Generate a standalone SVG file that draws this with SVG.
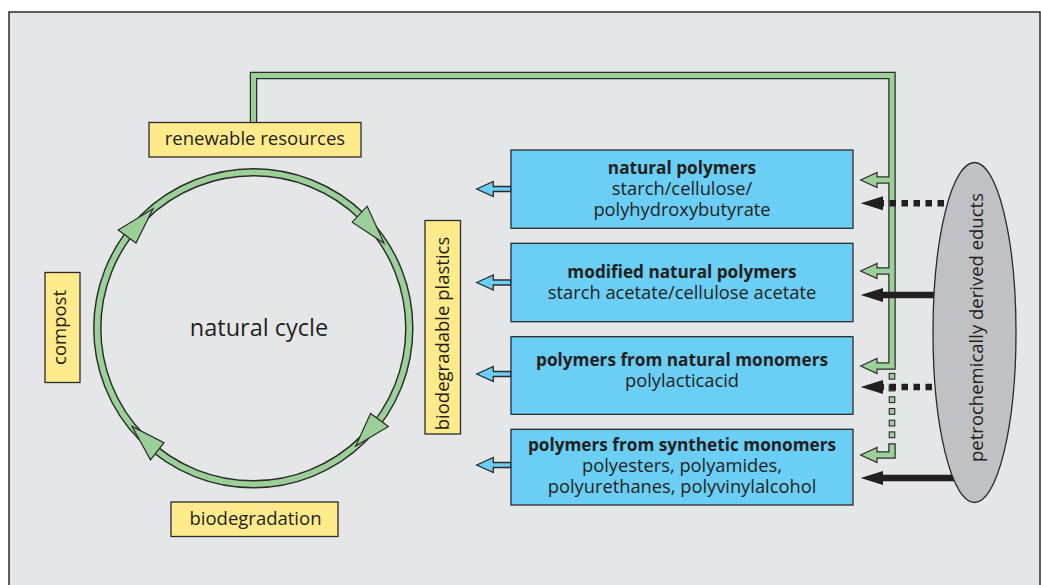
<svg xmlns="http://www.w3.org/2000/svg" width="1041" height="585" viewBox="0 0 1041 585">
  <defs>
    <style>
      .txt { font-family: "Open Sans", "Liberation Sans", sans-serif; fill: #231f20; }
      .lbl { font-size: 18.5px; text-anchor: middle; }
      .box-t { font-size: 18.3px; text-anchor: middle; }
      .bold { font-weight: bold; font-size: 17.2px; }
      .yellow { fill: #ffea8c; stroke: #2b2b2b; stroke-width: 1.3; }
      .blue { fill: #6bcef5; stroke: #2b2b2b; stroke-width: 1.3; }
      .pipe-out { fill: none; stroke: #2b2b2b; stroke-width: 7.5; stroke-linejoin: miter; }
      .pipe-in { fill: none; stroke: #9bd098; stroke-width: 5; stroke-linejoin: miter; }
      .ghead { fill: #9bd098; stroke: #2b2b2b; stroke-width: 1.2; stroke-linejoin: miter; }
      .gsq { fill: #9bd098; stroke: #2b2b2b; stroke-width: 1.1; }
      .bhead { fill: #231f20; }
      .bshaft { fill: none; stroke: #231f20; stroke-width: 6.5; }
      .dotted { stroke-dasharray: 6.5 5.5; }
    </style>
  </defs>

  <!-- panel -->
  <rect x="9" y="12" width="1031" height="600" fill="#e5e6e8" stroke="#2b2b2b" stroke-width="1.5"/>

  <!-- natural cycle ring -->
  <g id="natural-cycle">
    <circle cx="253.3" cy="328.3" r="156" fill="none" stroke="#2b2b2b" stroke-width="8.5"/>
    <circle cx="253.3" cy="328.3" r="156" fill="none" stroke="#9bd098" stroke-width="5.6"/>
    <polygon class="ghead" points="118.2,230.1 136.0,243.1 153.0,208.8"/>
    <polygon class="ghead" points="352.2,222.2 367.2,206.2 384.1,243.3"/>
    <polygon class="ghead" points="388.4,426.5 370.6,413.5 355.7,446.0"/>
    <polygon class="ghead" points="150.5,459.9 164.0,442.6 132.1,426.5"/>
    <text class="txt" x="259" y="336" font-size="23.5" text-anchor="middle">natural cycle</text>
  </g>

  <!-- connectors -->
  <g id="connectors">
    <!-- green supply line from renewable resources -->
    <path class="pipe-out" d="M253.5,125 V75.5 H892 V366 H876 M892,180 H876 M892,271 H876 M892,443.3 V455 H876"/>
    <polygon class="ghead" points="860.7,180 877,172.5 877,187.5"/>
    <polygon class="ghead" points="860.7,271 877,263.5 877,278.5"/>
    <polygon class="ghead" points="860.7,366 877,358.5 877,373.5"/>
    <polygon class="ghead" points="860.7,455 877,447.5 877,462.5"/>
    <path class="pipe-in" d="M253.5,125 V75.5 H892 V366 H875 M892,180 H875 M892,271 H875 M892,444.6 V455 H875"/>
    <!-- dotted part of the green line -->
    <rect class="gsq" x="889.2" y="373.4" width="5.6" height="5.8"/>
    <rect class="gsq" x="889.2" y="385.1" width="5.6" height="5.8"/>
    <rect class="gsq" x="889.2" y="396.8" width="5.6" height="5.8"/>
    <rect class="gsq" x="889.2" y="408.5" width="5.6" height="5.8"/>
    <rect class="gsq" x="889.2" y="420.2" width="5.6" height="5.8"/>
    <rect class="gsq" x="889.2" y="431.9" width="5.6" height="5.8"/>

    <!-- black arrows from petrochemical educts -->
    <path class="bshaft dotted" d="M944,203.3 H880"/>
    <polygon class="bhead" points="860.7,203.3 883,196.3 883,210.3"/>
    <path class="bshaft" d="M940,295 H880"/>
    <polygon class="bhead" points="860.7,295 883,288 883,302"/>
    <path class="bshaft dotted" d="M932,387 H880"/>
    <polygon class="bhead" points="860.7,387 883,380 883,394"/>
    <path class="bshaft" d="M960,478 H880"/>
    <polygon class="bhead" points="860.7,478 883,471 883,485"/>

    <!-- blue arrows towards biodegradable plastics -->
    <polygon class="blue" points="476.7,189 493.3,181.5 493.3,186.5 511,186.5 511,191.5 493.3,191.5 493.3,196.5"/>
    <polygon class="blue" points="476.7,282.5 493.3,275 493.3,280 511,280 511,285 493.3,285 493.3,290"/>
    <polygon class="blue" points="476.7,374 493.3,366.5 493.3,371.5 511,371.5 511,376.5 493.3,376.5 493.3,381.5"/>
    <polygon class="blue" points="476.7,465 493.3,457.5 493.3,462.5 511,462.5 511,467.5 493.3,467.5 493.3,472.5"/>
  </g>

  <!-- yellow labels -->
  <g id="renewable-resources">
    <rect class="yellow" x="149" y="122.5" width="212" height="34.5"/>
    <text class="txt lbl" x="255" y="144.5">renewable resources</text>
  </g>
  <g id="compost">
    <rect class="yellow" x="45" y="272.5" width="35" height="110"/>
    <text class="txt lbl" transform="translate(65.5,327.5) rotate(-90)">compost</text>
  </g>
  <g id="biodegradation">
    <rect class="yellow" x="171" y="502" width="167" height="34.5"/>
    <text class="txt lbl" x="255.5" y="525">biodegradation</text>
  </g>
  <g id="biodegradable-plastics">
    <rect class="yellow" x="425" y="220.5" width="35.5" height="213.5"/>
    <text class="txt lbl" transform="translate(449.3,333.5) rotate(-90)">biodegradable plastics</text>
  </g>

  <!-- polymer classes -->
  <g id="natural-polymers">
    <rect class="blue" x="511" y="150" width="342" height="78.3"/>
    <text class="txt box-t bold" x="682" y="174">natural polymers</text>
    <text class="txt box-t" x="682" y="195">starch/cellulose/</text>
    <text class="txt box-t" x="682" y="216">polyhydroxybutyrate</text>
  </g>
  <g id="modified-natural-polymers">
    <rect class="blue" x="511" y="243.3" width="342" height="78.4"/>
    <text class="txt box-t bold" x="682" y="277.7">modified natural polymers</text>
    <text class="txt box-t" x="682" y="299.3">starch acetate/cellulose acetate</text>
  </g>
  <g id="natural-monomers">
    <rect class="blue" x="511" y="336.7" width="342" height="77.6"/>
    <text class="txt box-t bold" x="682" y="366">polymers from natural monomers</text>
    <text class="txt box-t" x="682" y="387.3">polylacticacid</text>
  </g>
  <g id="synthetic-monomers">
    <rect class="blue" x="511" y="429.3" width="342" height="75.7"/>
    <text class="txt box-t bold" x="682" y="450.7">polymers from synthetic monomers</text>
    <text class="txt box-t" x="682" y="471.7">polyesters, polyamides,</text>
    <text class="txt box-t" x="682" y="493.3">polyurethanes, polyvinylalcohol</text>
  </g>

  <!-- petrochemical source -->
  <g id="petrochemical-educts">
    <ellipse cx="974.5" cy="332.5" rx="41.5" ry="170" fill="#c0c1c4" stroke="#2b2b2b" stroke-width="1.3"/>
    <text class="txt lbl" transform="translate(983,327.5) rotate(-90)">petrochemically derived educts</text>
  </g>
</svg>
